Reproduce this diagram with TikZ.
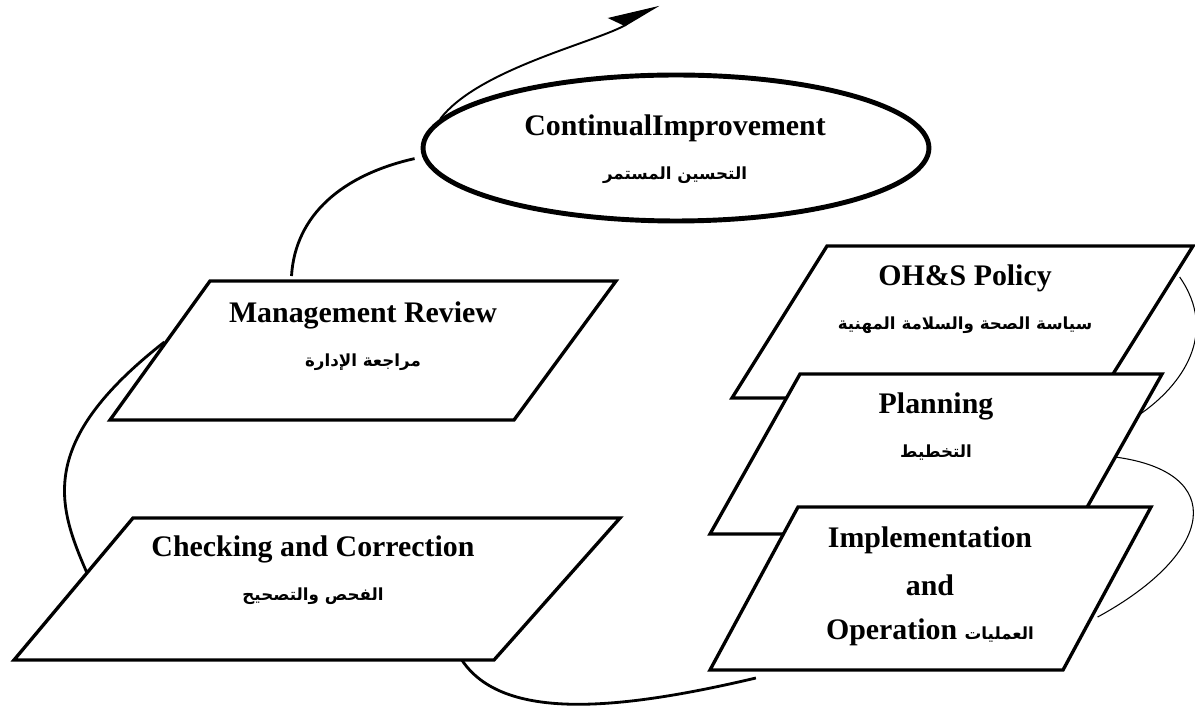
\documentclass[tikz,border=0pt]{standalone}
\usepackage{fontspec}
\setmainfont{Liberation Serif}
\newfontfamily\arabicfont[Script=Arabic]{DejaVu Sans}
\TeXXeTstate=1
\usetikzlibrary{shapes.geometric,positioning,arrows.meta,calc}
\newcommand{\artxt}[1]{{\arabicfont\bfseries\fontsize{9.5}{12}\selectfont\beginR #1\endR}}

\begin{document}
\begin{tikzpicture}[x=0.02cm,y=-0.02cm,node distance=0.94cm,on grid]
    \tikzstyle{box}=[draw,line width=1.9pt,fill=white,line join=miter]
    \tikzstyle{en}=[font=\fontsize{17}{20}\selectfont\bfseries]
    \tikzstyle{link}=[line width=1.6pt]
    \tikzstyle{hairlink}=[line width=0.6pt]
    \useasboundingbox (0,0) rectangle (1195,715);

    % cycle boxes
    \node[ellipse,draw,line width=2.8pt,minimum width=10.12cm,minimum height=2.92cm] (ci) at (676,148) {};
    \draw[box] (210,281) coordinate (mr-tl) -- (616,281) coordinate (mr-tr) -- (514,420) coordinate (mr-br) -- (110,420) coordinate (mr-bl) -- cycle;
    \draw[box] (133,518) coordinate (cc-tl) -- (620,518) coordinate (cc-tr) -- (494,660) coordinate (cc-br) -- (14,660) coordinate (cc-bl) -- cycle;
    \draw[box] (827,246) coordinate (ohs-tl) -- (1193,246) coordinate (ohs-tr) -- (1098,398) coordinate (ohs-br) -- (732,398) coordinate (ohs-bl) -- cycle;
    \draw[box] (800,374) coordinate (plan-tl) -- (1162,374) coordinate (plan-tr) -- (1072,534) coordinate (plan-br) -- (710,534) coordinate (plan-bl) -- cycle;
    \draw[box] (798,507) coordinate (impl-tl) -- (1151,507) coordinate (impl-tr) -- (1063,670) coordinate (impl-br) -- (710,670) coordinate (impl-bl) -- cycle;

    % labels
    \node[en] (ci-en) at (675,128) {ContinualImprovement};
    \node[below=of ci-en] (ci-ar) {\artxt{التحسين المستمر}};
    \node[en] (mr-en) at (363,315) {Management Review};
    \node[below=of mr-en] (mr-ar) {\artxt{مراجعة الإدارة}};
    \node[en] (cc-en) at (313,549) {Checking and Correction};
    \node[below=of cc-en] (cc-ar) {\artxt{الفحص والتصحيح}};
    \node[en] (ohs-en) at (965,278) {OH\&S Policy};
    \node[below=of ohs-en] (ohs-ar) {\artxt{سياسة الصحة والسلامة المهنية}};
    \node[en] (plan-en) at (936,406) {Planning};
    \node[below=of plan-en] (plan-ar) {\artxt{التخطيط}};
    \node[en] (impl-en) at (930,540) {Implementation};
    \node[en,below=0.9cm of impl-en] (impl-and) {and};
    \node[en,below=of impl-and] (impl-op) {Operation \artxt{العمليات}};

    % connectors
    \coordinate (ci-top) at (659,5);
    \draw[line width=1.1pt,-{Stealth[harpoon,length=0.95cm,width=0.6cm,inset=0.2cm]}] (ci.173) .. controls (478,69) and (597,42) .. (ci-top);
    \draw[link,shorten <=0.1cm,shorten >=0.16cm] ($(mr-tl)!0.2!(mr-tr)$) .. controls +(4,-66) and +(-80,18) .. (ci.182);
    \draw[link,shorten <=0.1cm] ($(mr-bl)!0.583!(mr-tl)$) .. controls +(-133,104) and +(-29,-67) .. ($(cc-bl)!0.613!(cc-tl)$);
    \draw[link] ($(cc-bl)!0.933!(cc-br)$) .. controls +(41,62) and +(-136,32) .. ($(impl-bl)!0.13!(impl-br)+(0,8)$);
    \draw[hairlink] ($(ohs-tr)!0.204!(ohs-br)+(6,0)$) .. controls +(39,56) and +(44,-30) .. ($(plan-tr)!0.256!(plan-br)$);
    \draw[hairlink] ($(plan-tr)!0.519!(plan-br)$) .. controls +(112,15) and +(119,-65) .. ($(impl-tr)!0.675!(impl-br)+(6,0)$);
\end{tikzpicture}
\end{document}
